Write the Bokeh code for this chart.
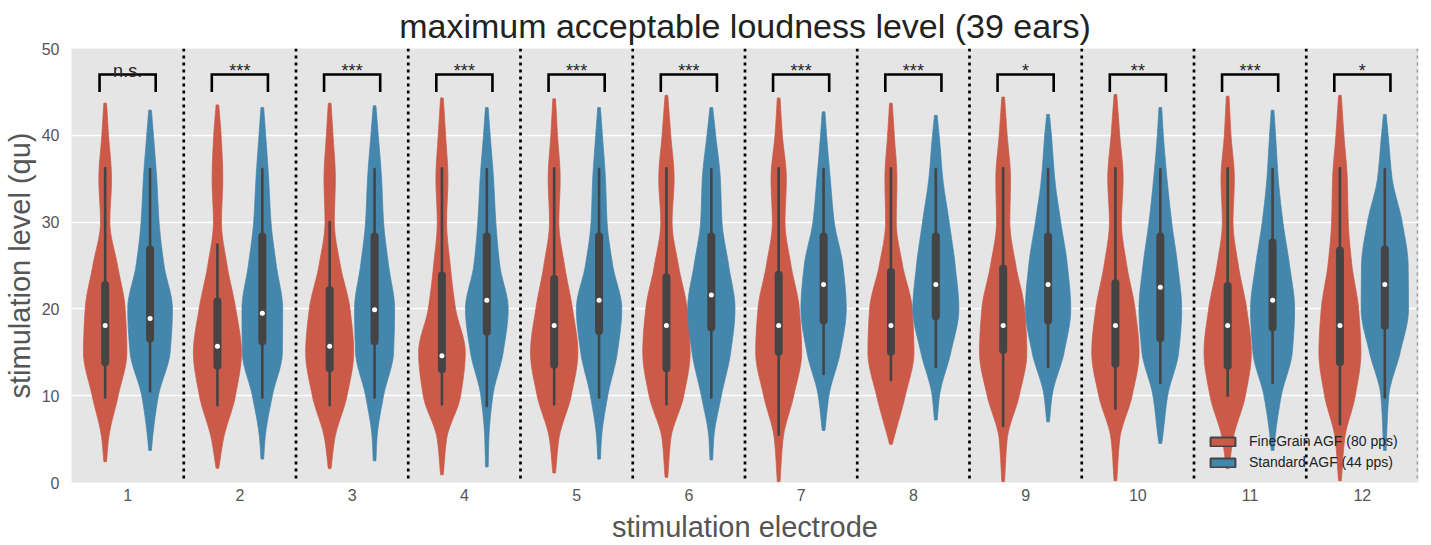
import numpy as np
from bokeh.plotting import figure
from bokeh.models import Range1d, FixedTicker, Span, Legend, LegendItem
from bokeh.embed import file_html
from bokeh.resources import INLINE
from bokeh.core.properties import value

# ---------------- data ----------------
electrodes = [1, 2, 3, 4, 5, 6, 7, 8, 9, 10, 11, 12]
significance = ["n.s.", "***", "***", "***", "***", "***", "***", "***", "*", "**", "***", "*"]
series_names = ["FineGrain AGF (80 pps)", "Standard AGF (44 pps)"]

# levels (qu) at which the relative violin density was read
density_levels = [5, 10, 15, 20, 25, 30, 35, 40]

# FineGrain AGF (80 pps)
fg_top = [43.7, 43.5, 43.7, 44.3, 44.2, 44.6, 44.3, 43.7, 44.4, 44.7, 44.5, 44.6]
fg_bottom = [2.4, 1.65, 1.6, 0.9, 1.1, 0.6, 0.1, 4.4, 0.1, 0.2, 1.6, 0.2]
fg_whisker_hi = [36.2, 27.4, 30.0, 36.2, 36.2, 36.2, 36.2, 36.2, 36.2, 36.2, 36.2, 36.2]
fg_whisker_lo = [9.8, 8.9, 8.9, 9.0, 9.0, 9.0, 5.5, 11.8, 6.5, 8.5, 10.0, 6.7]
fg_q3 = [23.2, 21.3, 22.6, 24.3, 23.9, 24.1, 24.4, 24.7, 25.1, 23.4, 23.1, 27.2]
fg_q1 = [13.4, 13.0, 12.7, 12.6, 13.1, 12.7, 14.6, 14.6, 14.8, 13.2, 13.0, 13.4]
fg_median = [18.1, 15.7, 15.7, 14.6, 18.1, 18.1, 18.1, 18.1, 18.1, 18.1, 18.1, 18.1]
fg_density = [
    [10, 39, 65, 60, 37, 14, 19, 10],
    [18, 54, 72, 55, 29, 12, 16, 11],
    [15, 52, 72, 61, 32, 14, 17, 10],
    [14, 56, 70, 41, 25, 14, 18, 11],
    [14, 51, 71, 55, 31, 14, 18, 10],
    [13, 52, 71, 62, 36, 17, 23, 13],
    [13, 45, 69, 62, 37, 19, 23, 11],
    [8, 43, 69, 64, 35, 16, 18, 10],
    [12, 48, 71, 64, 38, 20, 22, 12],
    [13, 50, 71, 59, 34, 18, 23, 13],
    [16, 53, 71, 57, 32, 16, 20, 10],
    [14, 46, 63, 56, 36, 25, 22, 12],
]

# Standard AGF (44 pps)
std_top = [42.9, 43.2, 43.4, 43.2, 43.2, 43.2, 42.7, 42.3, 42.4, 43.2, 42.9, 42.4]
std_bottom = [3.7, 2.7, 2.5, 1.8, 2.7, 2.6, 6.0, 7.2, 7.0, 4.5, 3.7, 3.7]
std_whisker_hi = [36.1, 36.1, 36.1, 36.1, 36.1, 36.1, 36.1, 36.1, 36.1, 36.1, 36.1, 36.1]
std_whisker_lo = [10.5, 9.8, 9.8, 8.8, 9.8, 9.8, 12.5, 13.3, 13.3, 11.5, 11.5, 9.8]
std_q3 = [27.3, 28.8, 28.8, 28.8, 28.8, 28.8, 28.8, 28.8, 28.8, 28.8, 28.1, 27.3]
std_q1 = [16.1, 15.8, 15.8, 16.9, 17.0, 17.4, 18.2, 18.7, 18.2, 16.2, 17.4, 17.6]
std_median = [18.9, 19.5, 19.9, 21.0, 21.0, 21.6, 22.8, 22.8, 22.8, 22.5, 21.0, 22.8]
std_density = [
    [7, 25, 60, 67, 42, 27, 20, 10],
    [8, 30, 60, 61, 42, 26, 19, 10],
    [7, 27, 57, 60, 42, 27, 21, 11],
    [6, 18, 49, 64, 39, 27, 20, 10],
    [7, 26, 55, 68, 41, 24, 19, 10],
    [7, 30, 58, 71, 52, 32, 27, 13],
    [None, 16, 50, 68, 58, 32, 20, 9],
    [None, 11, 45, 69, 58, 40, 21, 10],
    [None, 12, 48, 68, 58, 38, 20, 10],
    [6, 22, 55, 64, 52, 34, 20, 9],
    [7, 26, 59, 66, 51, 31, 17, 9],
    [5, 12, 46, 71, 70, 52, 22, 10],
]

# ---------------- style ----------------
FONT = "Liberation Sans"
RED = "#CC5A49"
BLUE = "#4586AC"
GRAY = "#444444"
TEXT_GRAY = "#555555"
DODGE = 0.2
WSCALE = 1.0 / 337.0   # density units -> category units
TIP = 4.0

FRAME_H = 436
Y0, Y1 = 0, 50
PX_PER_UNIT = FRAME_H / (Y1 - Y0)


def pchip(x, y, xs):
    x = np.asarray(x, float)
    y = np.asarray(y, float)
    h = np.diff(x)
    delta = np.diff(y) / h
    n = len(x)
    d = np.zeros(n)
    d[0] = delta[0]
    d[-1] = delta[-1]
    for k in range(1, n - 1):
        if delta[k - 1] * delta[k] <= 0:
            d[k] = 0.0
        else:
            w1 = 2 * h[k] + h[k - 1]
            w2 = h[k] + 2 * h[k - 1]
            d[k] = (w1 + w2) / (w1 / delta[k - 1] + w2 / delta[k])
    idx = np.clip(np.searchsorted(x, xs) - 1, 0, n - 2)
    t = (xs - x[idx]) / h[idx]
    h00 = 2 * t**3 - 3 * t**2 + 1
    h10 = t**3 - 2 * t**2 + t
    h01 = -2 * t**3 + 3 * t**2
    h11 = t**3 - t**2
    return h00 * y[idx] + h10 * h[idx] * d[idx] + h01 * y[idx + 1] + h11 * h[idx] * d[idx + 1]


def violin_outline(center, bottom, top, dens):
    ys = [bottom]
    ws = [TIP]
    for lv, dv in zip(density_levels, dens):
        if dv is None or not (bottom < lv < top):
            continue
        ys.append(lv)
        ws.append(dv)
    ys.append(top)
    ws.append(TIP)
    yy = np.linspace(bottom, top, 300)
    ww = np.maximum(pchip(ys, ws, yy), 0.5) * WSCALE
    xs = np.concatenate([center - ww, (center + ww)[::-1]])
    yv = np.concatenate([yy, yy[::-1]])
    return list(xs), list(yv)


p = figure(width=1431, height=545, output_backend="svg", toolbar_location=None,
           x_range=Range1d(0.5, 12.5), y_range=Range1d(Y0, Y1),
           min_border_left=71, min_border_right=13, min_border_top=46, min_border_bottom=63)

p.background_fill_color = "#E5E5E5"
p.outline_line_color = None
p.xgrid.visible = False
p.ygrid.grid_line_color = "white"
p.ygrid.grid_line_width = 1.5

p.title.text = "maximum acceptable loudness level (39 ears)"
p.title.align = "center"
p.title.text_font = FONT
p.title.text_font_size = "34px"
p.title.text_font_style = "normal"
p.title.text_color = "#222222"
p.title.standoff = 8

for ax in (p.xaxis[0], p.yaxis[0]):
    ax.axis_line_color = None
    ax.major_tick_line_color = None
    ax.minor_tick_line_color = None
    ax.major_tick_out = 0
    ax.major_tick_in = 0
    ax.minor_tick_out = 0
    ax.major_label_text_font = FONT
    ax.major_label_text_font_size = "16px"
    ax.major_label_text_color = TEXT_GRAY
    ax.axis_label_text_font = FONT
    ax.axis_label_text_font_size = "29px"
    ax.axis_label_text_font_style = "normal"
    ax.axis_label_text_color = TEXT_GRAY

p.xaxis.ticker = FixedTicker(ticks=electrodes)
p.yaxis.ticker = FixedTicker(ticks=[0, 10, 20, 30, 40, 50])
p.xaxis.axis_label = "stimulation electrode"
p.yaxis.axis_label = "stimulation level (qu)"
p.xaxis.major_label_standoff = 6
p.xaxis.axis_label_standoff = 7
p.yaxis.major_label_standoff = 12
p.yaxis.axis_label_standoff = 3

# separators between electrodes
for k in electrodes[:-1]:
    p.add_layout(Span(location=k + 0.5, dimension="height", line_color="black",
                      line_width=2.7, line_dash="3 4"))
p.add_layout(Span(location=12.49, dimension="height", line_color="#9a9a9a",
                  line_width=1.5, line_dash="3 4"))

series = [
    (-DODGE, RED, fg_top, fg_bottom, fg_whisker_hi, fg_whisker_lo, fg_q3, fg_q1, fg_median, fg_density),
    (+DODGE, BLUE, std_top, std_bottom, std_whisker_hi, std_whisker_lo, std_q3, std_q1, std_median, std_density),
]

inset = 4.0 / PX_PER_UNIT
legend_renderers = []
for off, col, top, bot, wh, wl, q3, q1, med, dens in series:
    centers = [e + off for e in electrodes]
    xs_all, ys_all = [], []
    for c, b, t, d in zip(centers, bot, top, dens):
        xs, ys = violin_outline(c, b, t, d)
        xs_all.append(xs)
        ys_all.append(ys)
    p.patches(xs=xs_all, ys=ys_all, fill_color=col, line_color=col, line_width=0.8)
    p.segment(x0=centers, y0=wl, x1=centers, y1=wh, line_color=GRAY, line_width=2.6, line_cap="round")
    p.segment(x0=centers, y0=[v + inset for v in q1], x1=centers, y1=[v - inset for v in q3],
              line_color=GRAY, line_width=8, line_cap="round")
    p.scatter(x=centers, y=med, size=5, fill_color="white", line_color=None)
    legend_renderers.append(p.rect(x=[np.nan], y=[np.nan], width=1, height=1, fill_color=col,
                                   line_color=GRAY, line_width=2))

# significance brackets
bx = [[e - 0.25, e - 0.25, e + 0.25, e + 0.25] for e in electrodes]
by = [[45.0, 47.0, 47.0, 45.0] for _ in electrodes]
p.multi_line(xs=bx, ys=by, line_color="black", line_width=2.6, line_join="miter")
p.text(x=electrodes, y=[47.4] * len(electrodes), text=significance, text_align="center",
       text_baseline="alphabetic", text_font=value(FONT), text_font_size="18px", text_color="#262626")

legend = Legend(items=[LegendItem(label=series_names[0], renderers=[legend_renderers[0]]),
                       LegendItem(label=series_names[1], renderers=[legend_renderers[1]])],
                location=(1136, 12), background_fill_alpha=0, border_line_alpha=0,
                padding=0, margin=0, spacing=5, glyph_width=31, glyph_height=11,
                label_height=16, label_standoff=11, label_text_font=FONT,
                label_text_font_size="14px", label_text_color="#222222")
p.add_layout(legend)

open("out.html", "w").write(file_html(p, INLINE))
